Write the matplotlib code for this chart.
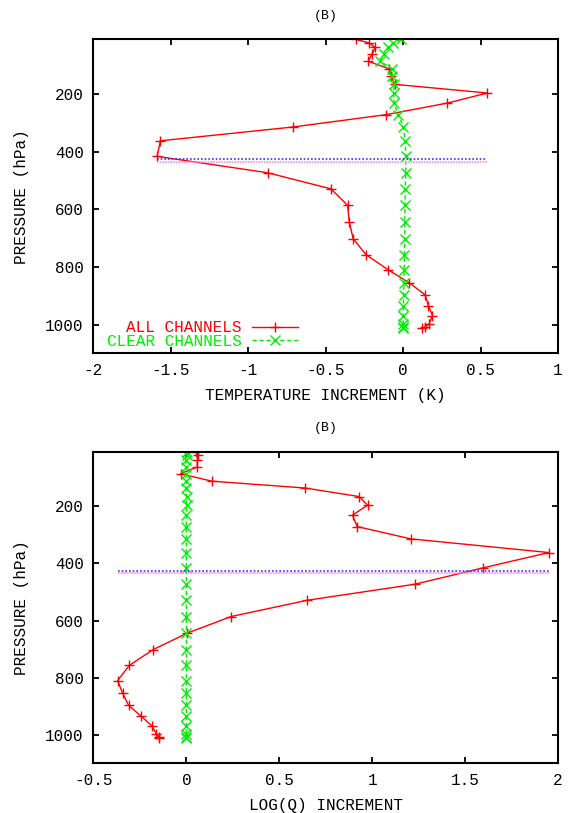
import matplotlib
matplotlib.use('Agg')
import matplotlib.pyplot as plt

plt.rcParams['font.family'] = ['Liberation Mono', 'DejaVu Sans Mono']

# pressure levels (hPa), shared by both panels
levels = [10, 22, 38, 62, 86, 112, 136, 166, 196, 231, 271, 314, 362, 416,
          473, 529, 586, 644, 702, 757, 810, 855, 897, 934, 969, 997, 1008, 1013]

# temperature increments (K)
t_all = [-0.305, -0.219, -0.181, -0.202, -0.226, -0.090, -0.079, -0.054, 0.544,
         0.286, -0.108, -0.710, -1.568, -1.589, -0.875, -0.466, -0.359, -0.348,
         -0.323, -0.241, -0.097, 0.039, 0.142, 0.163, 0.189, 0.168, 0.142, 0.121]
t_clear = [-0.015, -0.065, -0.095, -0.127, -0.148, -0.073, -0.069, -0.058, -0.062,
           -0.058, -0.032, 0.002, 0.013, 0.017, 0.017, 0.013, 0.012, 0.010, 0.010,
           0.008, 0.006, 0.005, 0.003, 0.002, 0.001, 0.0, 0.0, 0.0]

# log(q) increments
q_all = [0.054, 0.064, 0.059, 0.059, -0.031, 0.136, 0.639, 0.930, 0.975, 0.894,
         0.919, 1.207, 1.951, 1.594, 1.229, 0.651, 0.241, 0.005, -0.179, -0.307,
         -0.370, -0.343, -0.311, -0.245, -0.186, -0.161, -0.150, -0.147]
q_clear = [0.002, 0.001, 0.0, -0.001, -0.002, 0.0, 0.0, 0.001, 0.001, 0.0,
           0.0, 0.0, 0.0, 0.0, 0.0, 0.0, 0.0, 0.0, 0.0, 0.0,
           0.0, 0.0, 0.0, 0.0, 0.0, 0.0, 0.0, 0.0]

# the two horizontal reference levels (hPa)
p_blue = 426
p_pink = 434

RED = '#ff0000'
GREEN = '#00ee00'
FS = 11.5


def panel(ax, x_all, x_clear, xlim, xticks, xlabel, legend=False):
    ax.plot(x_all, levels, color=RED, lw=1.0, marker='+', ms=7.5, mew=1.0,
            label='ALL CHANNELS')
    ax.plot(x_clear, levels, color=GREEN, lw=1.0, ls=(0, (3, 2)), marker='x',
            ms=7, mew=1.0, label='CLEAR CHANNELS')
    lo, hi = min(x_all), max(x_all)
    ax.plot([lo, hi], [p_blue, p_blue], color='#3333ff', lw=1.2, ls=(0, (1, 1.2)))
    ax.plot([lo, hi], [p_pink, p_pink], color='#ff88ff', lw=1.2, ls=(0, (1, 0.6)))

    ax.set_xlim(*xlim)
    ax.set_ylim(1100, 10)
    ax.set_xticks(xticks)
    ax.set_xticklabels([('%g' % v) for v in xticks])
    ax.set_yticks([200, 400, 600, 800, 1000])
    ax.tick_params(direction='in', length=4.5, width=1.3, top=True, right=True,
                   labelsize=FS, pad=7)
    for s in ax.spines.values():
        s.set_linewidth(1.5)
    ax.set_title('(B)', fontsize=9.5, pad=15)
    ax.set_xlabel(xlabel, fontsize=FS, labelpad=7)
    ax.set_ylabel('PRESSURE (hPa)', fontsize=FS, labelpad=12)

    if legend:
        leg = ax.legend(loc='lower right', bbox_to_anchor=(0.44, 0.015),
                        frameon=False, markerfirst=False, fontsize=FS,
                        handlelength=2.9, handletextpad=0.6, labelspacing=-0.1,
                        borderpad=0, borderaxespad=0)
        for txt, c in zip(leg.get_texts(), [RED, GREEN]):
            txt.set_color(c)


fig = plt.figure(figsize=(5.68, 8.13), dpi=100)
ax1 = fig.add_axes([0.1646, 0.5654, 0.8178, 0.3861])
ax2 = fig.add_axes([0.1646, 0.0611, 0.8178, 0.3829])

panel(ax1, t_all, t_clear, (-2, 1), [-2, -1.5, -1, -0.5, 0, 0.5, 1],
      'TEMPERATURE INCREMENT (K)', legend=True)
panel(ax2, q_all, q_clear, (-0.5, 2), [-0.5, 0, 0.5, 1, 1.5, 2],
      'LOG(Q) INCREMENT')

fig.savefig('out.png', dpi=100)
